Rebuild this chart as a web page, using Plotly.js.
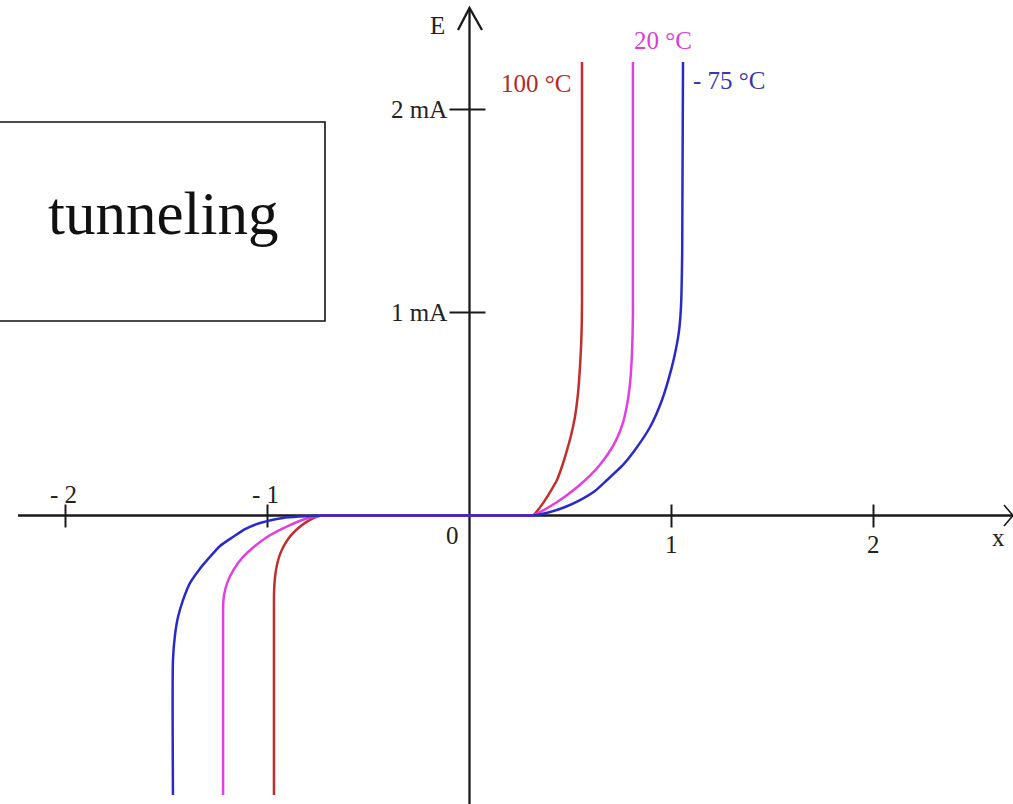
<!DOCTYPE html>
<html>
<head>
<meta charset="utf-8">
<script src="https://cdn.plot.ly/plotly-3.0.1.min.js"></script>
<style>
  html, body { margin: 0; padding: 0; background: #ffffff; }
  #chart { width: 1013px; height: 804px; }
</style>
</head>
<body>
<div id="chart"></div>
<script>
// Diode I-V characteristic at three temperatures (forward conduction and reverse tunneling breakdown)

// 100 °C
const hotX = [-0.968, -0.968, -0.966, -0.961, -0.951, -0.935, -0.912, -0.885, -0.850, -0.810, -0.770, -0.735,
              -0.70, -0.2, 0.2, 0.28,
              0.314, 0.345, 0.374, 0.404, 0.433, 0.459, 0.483, 0.504, 0.522, 0.537, 0.547, 0.553, 0.556, 0.557, 0.557];
const hotY = [-1.377, -0.404, -0.344, -0.289, -0.234, -0.183, -0.137, -0.099, -0.064, -0.034, -0.012, 0,
              0, 0, 0, 0,
              0, 0.035, 0.076, 0.124, 0.175, 0.245, 0.323, 0.400, 0.485, 0.600, 0.732, 0.850, 0.960, 1.062, 2.234];

// 20 °C
const roomX = [-1.220, -1.220, -1.219, -1.215, -1.200, -1.166, -1.121, -1.062, -1.002, -0.948, -0.889, -0.814, -0.735,
               -0.70, -0.2, 0.2, 0.28,
               0.314, 0.370, 0.430, 0.490, 0.550, 0.600, 0.646, 0.700, 0.725, 0.745, 0.762, 0.776, 0.788, 0.797, 0.803, 0.807, 0.809, 0.809];
const roomY = [-1.377, -0.466, -0.430, -0.392, -0.333, -0.264, -0.204, -0.150, -0.106, -0.076, -0.047, -0.017, 0,
               0, 0, 0, 0,
               0, 0.028, 0.064, 0.106, 0.154, 0.200, 0.250, 0.325, 0.370, 0.415, 0.465, 0.525, 0.595, 0.675, 0.770, 0.880, 1.000, 2.234];

// -75 °C
const coldX = [-1.468, -1.468, -1.458, -1.443, -1.418, -1.384, -1.339, -1.285, -1.235, -1.171, -1.111, -1.037, -0.923, -0.839, -0.735,
               -0.70, -0.2, 0.2, 0.28,
               0.314, 0.399, 0.473, 0.547, 0.621, 0.681, 0.755, 0.819, 0.894, 0.953, 1.002, 1.022, 1.036, 1.044, 1.049, 1.053, 1.057];
const coldY = [-1.377, -0.712, -0.589, -0.500, -0.416, -0.333, -0.268, -0.204, -0.150, -0.106, -0.067, -0.037, -0.012, -0.005, 0,
               0, 0, 0, 0,
               0, 0.017, 0.042, 0.076, 0.121, 0.175, 0.244, 0.323, 0.436, 0.569, 0.732, 0.820, 0.900, 0.980, 1.080, 1.300, 2.234];

const seriesNames = ['100 °C', '20 °C', '- 75 °C'];

// Axis ticks and their labels
const xTickVals = [-2, -1, 1, 2];
const xTickText = ['- 2', '- 1', '1', '2'];
const yTickVals = [1, 2];
const yTickText = ['1 mA', '2 mA'];

const boxLabel = 'tunneling';

// Scale: 202 px per unit in x, 203 px per mA in y, origin at (469.5, 515.5)
const X_RANGE = [-469.5 / 202, (1013 - 469.5) / 202];
const Y_RANGE = [(515.5 - 804) / 203, 515.5 / 203];
const px = v => v / 202;   // horizontal pixel distance -> x units
const py = v => v / 203;   // vertical pixel distance -> y units

const serif = 'Liberation Serif, Times New Roman, serif';
const colors = ['#c22e2e', '#e040e0', '#2a2ac8'];
const labelColors = ['#b02a2a', '#d641d6', '#3a36a8'];

const traces = [
  { x: hotX, y: hotY, name: seriesNames[0] },
  { x: roomX, y: roomY, name: seriesNames[1] },
  { x: coldX, y: coldY, name: seriesNames[2] }
].map((t, i) => Object.assign(t, {
  type: 'scatter', mode: 'lines',
  line: { color: colors[i], width: 2.5, shape: 'spline', smoothing: 0.6 },
  hoverinfo: 'skip', showlegend: false
}));

const axisLine = { color: '#1a1a1a', width: 2.3 };
const shapes = [];

// Horizontal axis with open arrowhead
shapes.push({ type: 'line', xref: 'x', yref: 'y', x0: X_RANGE[0] + px(18), x1: X_RANGE[1], y0: 0, y1: 0, line: axisLine, layer: 'below' });
shapes.push({ type: 'path', xref: 'x', yref: 'y',
  path: `M ${X_RANGE[1] - px(9)} ${py(10.5)} L ${X_RANGE[1]} 0 L ${X_RANGE[1] - px(9)} ${-py(10.5)}`,
  line: { color: '#1a1a1a', width: 1.6 }, layer: 'below' });

// Vertical axis with open arrowhead
const yTop = py(515.5 - 8);
shapes.push({ type: 'line', xref: 'x', yref: 'y', x0: 0, x1: 0, y0: Y_RANGE[0], y1: yTop, line: axisLine, layer: 'below' });
shapes.push({ type: 'path', xref: 'x', yref: 'y',
  path: `M ${-px(11.5)} ${yTop - py(22)} L 0 ${yTop} L ${px(12.5)} ${yTop - py(22)}`,
  line: { color: '#1a1a1a', width: 2.3 }, layer: 'below' });

// Tick marks crossing the axes
xTickVals.forEach(v => shapes.push({ type: 'line', xref: 'x', yref: 'y',
  x0: v, x1: v, y0: py(11), y1: -py(12), line: { color: '#1a1a1a', width: 2 }, layer: 'below' }));
yTickVals.forEach(v => shapes.push({ type: 'line', xref: 'x', yref: 'y',
  x0: -px(20), x1: px(16), y0: v, y1: v, line: { color: '#1a1a1a', width: 2 }, layer: 'below' }));

// Framed note on the left
shapes.push({ type: 'rect', xref: 'x', yref: 'y',
  x0: X_RANGE[0] - px(6), x1: X_RANGE[0] + px(325), y0: py(515.5 - 321), y1: py(515.5 - 122),
  line: { color: '#111111', width: 1.6 }, fillcolor: 'rgba(0,0,0,0)', layer: 'below' });

const annotations = [];
const txt = (text, x, y, opts) => annotations.push(Object.assign({
  text, x, y, xref: 'x', yref: 'y', showarrow: false,
  xanchor: 'center', yanchor: 'middle',
  font: { family: serif, size: 25, color: '#222222' }
}, opts || {}));

xTickVals.forEach((v, i) => txt(xTickText[i], v, 0, { yshift: v < 0 ? 21.5 : -28.5, xshift: v < 0 ? -2 : 0 }));
yTickVals.forEach((v, i) => txt(yTickText[i], 0, v, { xanchor: 'right', xshift: -21 }));
txt('0', 0, 0, { xshift: -17.5, yshift: -20 });
txt('E', 0, yTop, { xshift: -32.5, yshift: -17 });
txt('x', X_RANGE[1], 0, { xshift: -15, yshift: -21.5 });

// Temperature labels next to the vertical branches
txt(seriesNames[0], hotX[hotX.length - 1], 2.13, { xanchor: 'right', xshift: -9, font: { family: serif, size: 25, color: labelColors[0] } });
txt(seriesNames[1], roomX[roomX.length - 1], hotY[hotY.length - 1], { yshift: 22, xshift: 30, font: { family: serif, size: 25, color: labelColors[1] } });
txt(seriesNames[2], coldX[coldX.length - 1], 2.145, { xanchor: 'left', xshift: 8, font: { family: serif, size: 25, color: labelColors[2] } });

txt(boxLabel, X_RANGE[0] + px(163), py(515.5 - 213), { font: { family: serif, size: 61, color: '#111111' } });

const layout = {
  width: 1013, height: 804,
  margin: { l: 0, r: 0, t: 0, b: 0, pad: 0 },
  paper_bgcolor: '#ffffff', plot_bgcolor: '#ffffff',
  xaxis: { range: X_RANGE, visible: false, fixedrange: true },
  yaxis: { range: Y_RANGE, visible: false, fixedrange: true },
  shapes, annotations, showlegend: false
};

Plotly.newPlot('chart', traces, layout, { staticPlot: true, displayModeBar: false });
</script>
</body>
</html>
